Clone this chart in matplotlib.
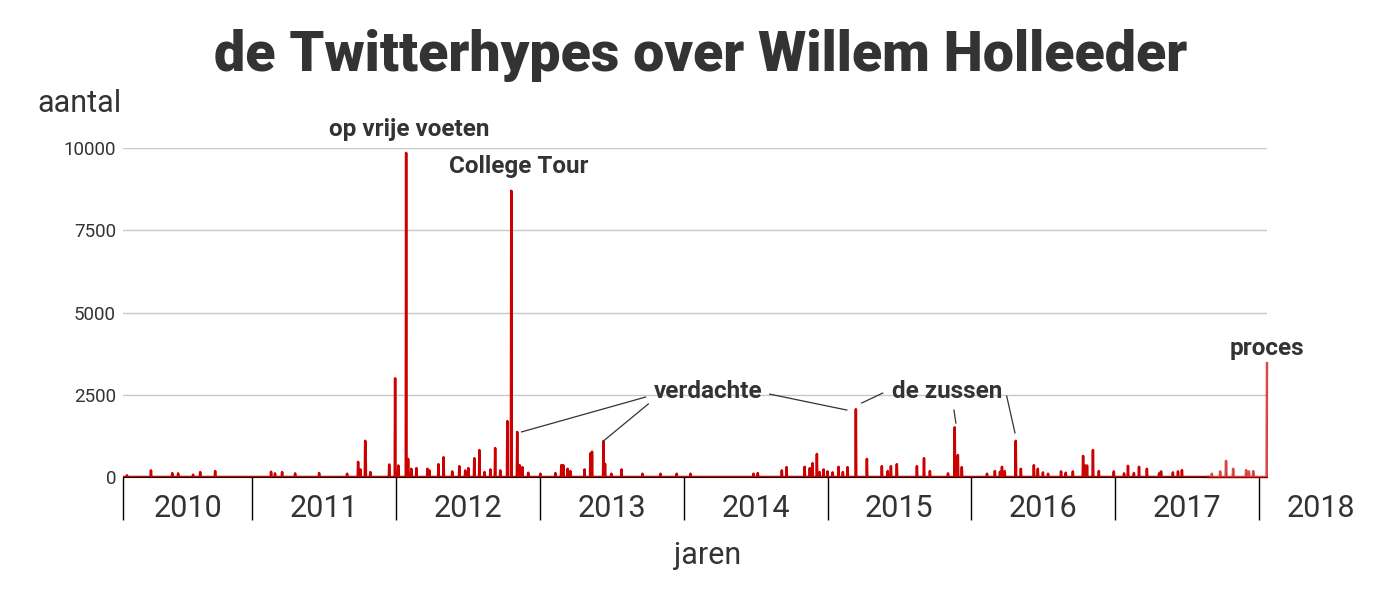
import matplotlib
matplotlib.use("Agg")
import matplotlib.pyplot as plt
import matplotlib.transforms as mtransforms
import pandas as pd

# tweets per dag: alleen de dagen die boven de ruis uitkomen, de rest ~0
piek_datum = [
    "2010-02-17", "2010-04-19", "2010-06-12", "2010-06-27", "2010-08-04", "2010-08-22", "2010-09-29",
    "2011-02-18", "2011-02-28", "2011-03-18", "2011-04-20", "2011-06-20", "2011-08-30", "2011-09-27",
    "2011-10-03", "2011-10-15", "2011-10-16", "2011-10-28", "2011-12-15", "2011-12-30", "2012-01-07",
    "2012-01-27", "2012-02-01", "2012-02-09", "2012-02-22", "2012-03-21", "2012-03-26", "2012-04-18",
    "2012-05-01", "2012-05-23", "2012-06-10", "2012-06-25", "2012-07-03", "2012-07-18", "2012-07-31",
    "2012-08-13", "2012-08-28", "2012-09-09", "2012-09-22", "2012-10-10", "2012-10-20", "2012-11-04",
    "2012-11-10", "2012-11-17", "2012-12-02",
    "2013-01-02", "2013-02-09", "2013-02-24", "2013-03-01", "2013-03-12", "2013-03-19", "2013-04-24",
    "2013-05-09", "2013-05-13", "2013-06-11", "2013-06-15", "2013-07-01", "2013-07-27", "2013-09-18",
    "2013-11-03", "2013-12-14",
    "2014-01-18", "2014-06-27", "2014-07-08", "2014-09-07", "2014-09-19", "2014-11-04", "2014-11-17",
    "2014-11-24", "2014-12-05", "2014-12-12", "2014-12-22",
    "2015-01-01", "2015-01-14", "2015-01-29", "2015-02-09", "2015-02-21", "2015-03-14", "2015-04-11",
    "2015-05-19", "2015-06-03", "2015-06-11", "2015-06-26", "2015-08-16", "2015-09-03", "2015-09-18",
    "2015-11-03", "2015-11-20", "2015-11-28", "2015-12-08",
    "2016-02-10", "2016-03-01", "2016-03-14", "2016-03-19", "2016-03-26", "2016-04-23", "2016-05-06",
    "2016-06-08", "2016-06-18", "2016-07-01", "2016-07-14", "2016-08-16", "2016-08-28", "2016-09-15",
    "2016-10-11", "2016-10-16", "2016-10-21", "2016-11-05", "2016-11-20", "2016-12-28",
    "2017-01-23", "2017-02-02", "2017-02-17", "2017-03-02", "2017-03-22", "2017-04-22", "2017-04-27",
    "2017-05-27", "2017-06-09", "2017-06-19", "2017-09-03", "2017-09-24", "2017-10-09", "2017-10-27",
    "2017-11-29", "2017-12-06", "2017-12-17",
    "2018-01-21",
]
piek_aantal = [
    50, 200, 120, 110, 70, 150, 180,
    160, 110, 150, 110, 120, 100, 460,
    230, 1100, 1000, 150, 380, 3000, 350,
    9850, 550, 250, 270, 250, 200, 390,
    600, 170, 330, 200, 270, 570, 820,
    150, 230, 880, 200, 1700, 8700, 1370,
    360, 300, 130,
    100, 120, 360, 360, 250, 180, 230,
    720, 770, 1090, 400, 100, 230, 100,
    100, 100,
    100, 100, 120, 200, 300, 310, 270,
    420, 700, 150, 230,
    170, 140, 310, 150, 300, 2060, 550,
    330, 180, 330, 390, 330, 570, 180,
    110, 1510, 670, 300,
    100, 180, 160, 310, 180, 1100, 250,
    360, 250, 140, 100, 170, 130, 170,
    640, 350, 350, 820, 180, 170,
    110, 340, 120, 310, 250, 110, 170,
    140, 170, 210, 100, 170, 490, 250,
    210, 170, 180,
    3460,
]

begin = "2010-02-07"
eind = "2018-01-21"
voorlopig_vanaf = "2017-08-25"   # laatste stuk lichter getekend

jaren = [2010, 2011, 2012, 2013, 2014, 2015, 2016, 2017, 2018]
y_ticks = [0, 2500, 5000, 7500, 10000]

# annotaties: tekst, datum, hoogte
labels = [
    ("op vrije voeten", "2012-02-04", 10550),
    ("College Tour", "2012-11-07", 9450),
    ("verdachte", "2014-03-05", 2590),
    ("de zussen", "2015-11-01", 2590),
    ("proces", "2018-01-21", 3920),
]
# verbindingslijntjes: (datum1, waarde1, datum2, waarde2)
lijntjes = [
    ("2013-09-26", 2430, "2012-11-15", 1370),
    ("2013-10-03", 2220, "2013-06-11", 1095),
    ("2014-08-07", 2520, "2015-02-19", 2035),
    ("2015-03-29", 2250, "2015-05-21", 2550),
    ("2015-11-18", 2035, "2015-11-23", 1640),
    ("2016-03-31", 2460, "2016-04-21", 1340),
]

ROOD = "#cc0000"
TEKST = "#333333"
FONT = ["Roboto", "DejaVu Sans"]

dagen = pd.date_range(begin, eind, freq="D")
reeks = pd.Series(piek_aantal, index=pd.to_datetime(piek_datum)).reindex(dagen, fill_value=0)

fig = plt.figure(figsize=(13.93, 5.9), dpi=100)
ax = fig.add_axes([123 / 1393, 113 / 590, 1144 / 1393, 329 / 590])

oud = reeks[reeks.index <= voorlopig_vanaf]
nieuw = reeks[reeks.index >= voorlopig_vanaf]
ax.fill_between(oud.index, oud.values, color=ROOD, lw=0, zorder=3)
ax.plot(oud.index, oud.values, color=ROOD, lw=1.8, zorder=3)
ax.fill_between(nieuw.index, nieuw.values, color=ROOD, alpha=0.7, lw=0, zorder=3, clip_on=False)
ax.plot(nieuw.index, nieuw.values, color=ROOD, alpha=0.7, lw=1.8, zorder=3, clip_on=False)

ax.set_xlim(pd.Timestamp(begin), pd.Timestamp(eind))
ax.set_ylim(0, 10000)

# y-as
ax.set_yticks(y_ticks)
ax.set_yticklabels([str(v) for v in y_ticks], fontfamily=FONT, fontsize=13.5, color=TEKST)
ax.tick_params(axis="y", length=0, pad=5)
ax.grid(axis="y", color="#c8c8c8", lw=1)
ax.set_axisbelow(True)

# x-as: lange streepjes op de jaargrenzen, jaartallen ertussen
grenzen = [pd.Timestamp(begin)] + [pd.Timestamp(f"{j}-01-01") for j in jaren[1:]]
ax.set_xticks(grenzen)
ax.set_xticklabels([""] * len(grenzen))
ax.tick_params(axis="x", length=31, width=1, color="black", direction="out")
for s in ["left", "top", "right"]:
    ax.spines[s].set_visible(False)
ax.spines["bottom"].set_color("black")

trans = mtransforms.blended_transform_factory(ax.transData, ax.transAxes)
for i, j in enumerate(jaren):
    links = grenzen[i]
    rechts = grenzen[i + 1] if i + 1 < len(grenzen) else links + pd.Timedelta(days=316)
    midden = links + (rechts - links) / 2
    ax.text(midden, -0.097, str(j), transform=trans, ha="center", va="center",
            fontfamily=FONT, fontsize=22, color=TEKST, clip_on=False)

# annotaties
for tekst, datum, hoogte in labels:
    ax.text(pd.Timestamp(datum), hoogte, tekst, ha="center", va="center",
            fontfamily=FONT, fontsize=17.5, fontweight="bold", color=TEKST, clip_on=False)
for d1, v1, d2, v2 in lijntjes:
    ax.plot([pd.Timestamp(d1), pd.Timestamp(d2)], [v1, v2], color=TEKST, lw=0.9, zorder=4)

fig.text(37 / 1393, 1 - 104 / 590, "aantal", ha="left", va="center",
         fontfamily=FONT, fontsize=22, color=TEKST)
fig.text(708 / 1393, 1 - 556 / 590, "jaren", ha="center", va="center",
         fontfamily=FONT, fontsize=22, color=TEKST)
fig.text(701 / 1393, 1 - 55 / 590, "de Twitterhypes over Willem Holleeder", ha="center", va="center",
         fontfamily=FONT, fontsize=40, fontweight="black", color=TEKST)

fig.savefig("out.png", dpi=100)
